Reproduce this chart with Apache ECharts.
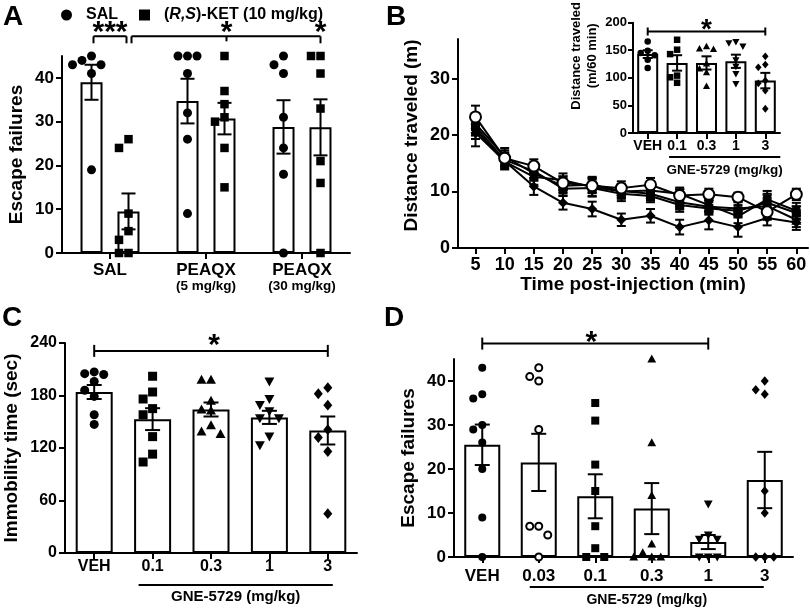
<!DOCTYPE html>
<html><head><meta charset="utf-8">
<script src="https://cdn.jsdelivr.net/npm/echarts@6/dist/echarts.min.js"></script>
<style>html,body{margin:0;padding:0;background:#fff}#c{width:810px;height:611px}</style>
</head><body><div id="c"></div>
<script>
// ================= DATA =================
// Panel A
const aCategories = ['SAL', 'PEAQX\n(5 mg/kg)', 'PEAQX\n(30 mg/kg)'];
const aYTicks = [0, 10, 20, 30, 40];
const aSalMean = [39.0, 34.7, 28.8];
const aSalSem  = [4.0, 5.1, 6.1];
const aKetMean = [9.5, 30.7, 28.7];
const aKetSem  = [4.1, 3.6, 6.4];
const aSalPoints = [[45, 44, 43, 43, 41, 19], [45, 45, 45, 41, 32, 26, 9], [45, 43, 41, 31, 24, 18, 0]];
const aKetPoints = [[26, 24, 9, 5, 3, 0, 0], [45, 37, 34, 31, 30, 24, 15], [45, 45, 41, 33, 21, 16, 0]];

// Panel B (time course)
const bTimes  = [5, 10, 15, 20, 25, 30, 35, 40, 45, 50, 55, 60];
const bYTicks = [0, 10, 20, 30];
const bVehMean = [23.2, 15.9, 14.5, 11.5, 11.0, 10.6, 11.2, 9.3, 9.5, 9.0, 6.4, 9.5];
const bVehSem  = [2.0, 1.4, 1.2, 1.1, 1.3, 1.2, 1.2, 1.1, 1.0, 0.8, 1.4, 1.0];
const bD01Mean = [21.5, 15.6, 13.6, 10.5, 10.6, 9.6, 9.2, 7.6, 7.0, 6.6, 8.0, 6.2];
const bD01Sem  = [1.6, 1.3, 1.5, 1.2, 1.5, 1.3, 1.1, 1.2, 1.1, 1.0, 1.6, 1.2];
const bD03Mean = [22.0, 16.2, 13.2, 11.0, 11.2, 10.1, 9.6, 8.1, 7.3, 7.0, 7.4, 5.0];
const bD03Sem  = [1.8, 1.5, 1.3, 1.3, 1.4, 1.2, 1.2, 1.3, 1.2, 1.1, 1.5, 1.3];
const bD1Mean  = [21.0, 15.3, 12.6, 12.0, 10.8, 10.0, 10.2, 9.6, 7.6, 5.6, 8.6, 6.6];
const bD1Sem   = [1.7, 1.2, 1.4, 1.2, 1.6, 1.3, 1.3, 1.1, 1.2, 1.2, 1.5, 1.4];
const bD3Mean  = [20.4, 15.4, 10.9, 8.0, 6.9, 5.0, 5.7, 3.7, 4.9, 3.7, 5.3, 4.5];
const bD3Sem   = [2.4, 1.5, 1.5, 1.2, 1.3, 1.1, 1.2, 1.3, 1.6, 1.7, 1.3, 1.3];

// Panel B inset
const insetCategories = ['VEH', '0.1', '0.3', '1', '3'];
const insetMean = [143, 127, 127, 130, 95];
const insetSem  = [7, 14, 12, 12, 14];
const insetPoints = [[166, 149, 145, 141, 133, 118], [169, 151, 143, 104, 91, 101],
  [157, 153, 152, 126, 117, 110, 85], [165, 163, 157, 132, 120, 107, 89], [139, 124, 119, 95, 90, 77, 44]];

// Panel C
const cCategories = ['VEH', '0.1', '0.3', '1', '3'];
const cMean = [184, 153, 164, 155, 140];
const cSem  = [8, 12.5, 8, 7.5, 16];
const cPoints = [[207, 205, 204, 196, 186, 179, 158, 147], [202, 184, 176, 165, 158, 133, 113, 104],
  [198, 198, 174, 164, 163, 146, 139, 136], [196, 176, 169, 162, 154, 154, 133, 123], [189, 182, 169, 141, 132, 116, 45]];

// Panel D
const dCategories = ['VEH', '0.03', '0.1', '0.3', '1', '3'];
const dYTicks = [0, 10, 20, 30, 40];
const dMean = [25.5, 21.5, 13.8, 11.0, 3.4, 17.5];
const dSem  = [4.6, 6.5, 5.0, 5.8, 1.6, 6.4];
const dPoints = [[43, 37, 36, 30, 29, 26, 20, 9, 0], [43, 41, 40, 29, 7, 7, 5, 0], [35, 31, 21, 15, 7, 2, 0, 0],
  [45, 26, 14, 3, 1, 0, 0, 0], [12, 5, 4, 4, 0, 0, 0], [40, 38, 37, 15, 10, 0, 0, 0]];

// ================= STYLE / LAYOUT =================
const FONT = "'Liberation Sans', Arial, Helvetica, sans-serif";
const shapesC = ['circle', 'square', 'triangle', 'invtri', 'diamond'];
const shapesD = ['circle', 'open', 'square', 'triangle', 'invtri', 'diamond'];
const GRIDS = [
  {left: 62, top: 56, width: 288, height: 197},   // A
  {left: 458, top: 39, width: 350, height: 209},  // B
  {left: 633, top: 15, width: 147, height: 118},  // inset
  {left: 65, top: 343, width: 292, height: 210},  // C
  {left: 454, top: 359, width: 339, height: 198}  // D
];

function marker(shape, x, y, s) {
  const blk = {fill: '#000'};
  switch (shape) {
    case 'open': return {type: 'circle', shape: {cx: x, cy: y, r: s / 2 - 0.5}, style: {fill: '#fff', stroke: '#000', lineWidth: 2}};
    case 'square': return {type: 'rect', shape: {x: x - s / 2, y: y - s / 2, width: s, height: s}, style: blk};
    case 'triangle': return {type: 'polygon', shape: {points: [[x, y - s * 0.55], [x + s * 0.55, y + s * 0.45], [x - s * 0.55, y + s * 0.45]]}, style: blk};
    case 'invtri': return {type: 'polygon', shape: {points: [[x, y + s * 0.55], [x + s * 0.55, y - s * 0.45], [x - s * 0.55, y - s * 0.45]]}, style: blk};
    case 'diamond': return {type: 'polygon', shape: {points: [[x, y - s * 0.6], [x + s * 0.5, y], [x, y + s * 0.6], [x - s * 0.5, y]]}, style: blk};
    default: return {type: 'circle', shape: {cx: x, cy: y, r: s / 2}, style: blk};
  }
}

// simple beeswarm: returns pixel offsets for a group of values
function swarm(values, pxPerUnit, step) {
  const order = values.map((v, i) => i).sort((a, b) => values[b] - values[a]);
  const placed = [], offs = new Array(values.length).fill(0);
  const cands = [0];
  for (let k = 1; k < 8; k++) cands.push(-k * step, k * step);
  for (const i of order) {
    const y = values[i] * pxPerUnit;
    for (const dx of cands) {
      if (placed.every(p => Math.hypot(p.x - dx, p.y - y) >= step * 0.98)) {
        offs[i] = dx; placed.push({x: dx, y}); break;
      }
    }
  }
  return offs;
}
function pointData(groups, pxPerUnit, step) {
  const out = [];
  groups.forEach((vals, ci) => {
    const o = swarm(vals, pxPerUnit, step);
    vals.forEach((v, k) => out.push([ci, v, o[k]]));
  });
  return out;
}
function errData(xs, means, sems) { return means.map((m, i) => [xs[i], m, sems[i]]); }

function ptsSeries(name, xi, shapes, size, offset, data) {
  return {
    type: 'custom', name, xAxisIndex: xi, yAxisIndex: xi, z: 4, itemStyle: {color: '#000'},
    renderItem: (params, api) => {
      const cat = api.value(0);
      const p = api.coord([cat, api.value(1)]);
      const shp = Array.isArray(shapes) ? shapes[cat] : shapes;
      return marker(shp, p[0] + offset + api.value(2), p[1], size);
    },
    data
  };
}
function errSeries(xi, offset, capW, data, z) {
  return {
    type: 'custom', xAxisIndex: xi, yAxisIndex: xi, z: z || 5, silent: true,
    renderItem: (params, api) => {
      const x = api.value(0), m = api.value(1), s = api.value(2);
      const t = api.coord([x, m + s]), b = api.coord([x, m - s]);
      const cx = t[0] + offset, st = {stroke: '#000', lineWidth: 2};
      return {type: 'group', children: [
        {type: 'line', shape: {x1: cx, y1: t[1], x2: cx, y2: b[1]}, style: st},
        {type: 'line', shape: {x1: cx - capW / 2, y1: t[1], x2: cx + capW / 2, y2: t[1]}, style: st},
        {type: 'line', shape: {x1: cx - capW / 2, y1: b[1], x2: cx + capW / 2, y2: b[1]}, style: st}
      ]};
    },
    data
  };
}
function barSeries(xi, data, width, gap) {
  const s = {type: 'bar', xAxisIndex: xi, yAxisIndex: xi, data, barWidth: width, z: 2, silent: true,
    itemStyle: {color: '#fff', borderColor: '#000', borderWidth: 2}};
  if (gap) s.barGap = gap;
  return s;
}

const axLine = {show: true, lineStyle: {color: '#000', width: 2}};
const axTick = (len, extra) => Object.assign({show: true, length: len, lineStyle: {color: '#000', width: 2}}, extra || {});
const lab = (size, margin, extra) => Object.assign({color: '#000', fontFamily: FONT, fontWeight: 'bold', fontSize: size, margin}, extra || {});
const nameStyle = (size, extra) => Object.assign({color: '#000', fontFamily: FONT, fontWeight: 'bold', fontSize: size}, extra || {});

function catAxis(gi, data, size, margin, extraLabel) {
  return {type: 'category', gridIndex: gi, data, axisLine: axLine,
    axisTick: axTick(6, {alignWithLabel: true}), splitLine: {show: false},
    axisLabel: lab(size, margin, Object.assign({interval: 0}, extraLabel || {}))};
}

const A_OFF = 18.5;
const option = {
  animation: false,
  backgroundColor: '#fff',
  textStyle: {fontFamily: FONT},
  grid: GRIDS,
  legend: {
    left: 56, top: 2, itemWidth: 11, itemHeight: 11, itemGap: 21,
    selectedMode: false,
    data: [{name: 'SAL', icon: 'circle'}, {name: '(R,S)-KET (10 mg/kg)', icon: 'rect'}],
    formatter: n => n === 'SAL' ? '{n|SAL}' : '{n|(}{i|R,S}{m|)-KET (10 mg/kg)}',
    textStyle: {rich: {
      n: {fontFamily: FONT, fontWeight: 'bold', fontSize: 16, color: '#000', padding: [0, 0, 0, 9]},
      i: {fontFamily: FONT, fontWeight: 'bold', fontStyle: 'italic', fontSize: 16, color: '#000'},
      m: {fontFamily: FONT, fontWeight: 'bold', fontSize: 16, color: '#000'}
    }}
  },
  xAxis: [
    catAxis(0, aCategories, 17, 9, {
      formatter: v => { const p = v.split('\n'); return p[1] ? `{a|${p[0]}}\n{b|${p[1]}}` : `{a|${p[0]}}`; },
      rich: {a: {fontFamily: FONT, fontWeight: 'bold', fontSize: 17, lineHeight: 17, color: '#000'},
             b: {fontFamily: FONT, fontWeight: 'bold', fontSize: 13.5, lineHeight: 15, color: '#000'}}
    }),
    {type: 'value', gridIndex: 1, min: 2, max: 62, axisLine: axLine, splitLine: {show: false},
      axisTick: axTick(6, {customValues: bTimes}), axisLabel: lab(18, 8, {customValues: bTimes}),
      name: 'Time post-injection (min)', nameLocation: 'middle', nameGap: 26, nameTextStyle: nameStyle(19)},
    catAxis(2, insetCategories, 14, 6),
    catAxis(3, cCategories, 16, 6),
    catAxis(4, dCategories, 17, 11)
  ],
  yAxis: [
    {type: 'value', gridIndex: 0, min: 0, max: 45, axisLine: axLine, splitLine: {show: false},
      axisTick: axTick(6, {customValues: aYTicks}), axisLabel: lab(17, 8, {customValues: aYTicks}),
      name: 'Escape failures', nameLocation: 'middle', nameGap: 36, nameTextStyle: nameStyle(19)},
    {type: 'value', gridIndex: 1, min: 0, max: 37, axisLine: axLine, splitLine: {show: false},
      axisTick: axTick(6, {customValues: bYTicks}), axisLabel: lab(18, 8, {customValues: bYTicks}),
      name: 'Distance traveled (m)', nameLocation: 'middle', nameGap: 37, nameTextStyle: nameStyle(19, {padding: [0, 0, 0, 16]})},
    {type: 'value', gridIndex: 2, min: 0, max: 200, interval: 50, axisLine: axLine, splitLine: {show: false},
      axisTick: axTick(5), axisLabel: lab(13, 6),
      name: 'Distance traveled\n(m/60 min)', nameLocation: 'middle', nameGap: 33,
      nameTextStyle: nameStyle(13, {lineHeight: 16, padding: [0, 0, 0, 44]})},
    {type: 'value', gridIndex: 3, min: 0, max: 240, interval: 60, axisLine: axLine, splitLine: {show: false},
      axisTick: axTick(6), axisLabel: lab(16, 8),
      name: 'Immobility time (sec)', nameLocation: 'middle', nameGap: 44, nameTextStyle: nameStyle(19)},
    {type: 'value', gridIndex: 4, min: 0, max: 45, axisLine: axLine, splitLine: {show: false},
      axisTick: axTick(6, {customValues: dYTicks}), axisLabel: lab(17, 8, {customValues: dYTicks}),
      name: 'Escape failures', nameLocation: 'middle', nameGap: 36, nameTextStyle: nameStyle(19)}
  ],
  series: []
};

const S = option.series;
const idxA = aCategories.map((c, i) => i);
// Panel A
S.push(barSeries(0, aSalMean, 22, '68%'));
S.push(barSeries(0, aKetMean, 22, '68%'));
S.push(ptsSeries('SAL', 0, 'circle', 9, -A_OFF, pointData(aSalPoints, 197 / 45, 9.5)));
S.push(ptsSeries('(R,S)-KET (10 mg/kg)', 0, 'square', 8.5, A_OFF, pointData(aKetPoints, 197 / 45, 9.5)));
S.push(errSeries(0, -A_OFF, 14, errData(idxA, aSalMean, aSalSem)));
S.push(errSeries(0, A_OFF, 14, errData(idxA, aKetMean, aKetSem)));

// Panel B: lines with error bars
const bGroups = [
  {name: '3 mg/kg', mean: bD3Mean, sem: bD3Sem, symbol: 'diamond', size: 10, rot: 0},
  {name: '1 mg/kg', mean: bD1Mean, sem: bD1Sem, symbol: 'triangle', size: 10, rot: 180},
  {name: '0.3 mg/kg', mean: bD03Mean, sem: bD03Sem, symbol: 'triangle', size: 10, rot: 0},
  {name: '0.1 mg/kg', mean: bD01Mean, sem: bD01Sem, symbol: 'rect', size: 9, rot: 0},
  {name: 'VEH', mean: bVehMean, sem: bVehSem, symbol: 'circle', size: 11, rot: 0, open: true}
];
bGroups.forEach((g, k) => {
  S.push(errSeries(1, 0, 9, errData(bTimes, g.mean, g.sem), 3 + k));
  S.push({type: 'line', name: g.name, xAxisIndex: 1, yAxisIndex: 1, z: 3 + k, silent: true,
    data: bTimes.map((t, i) => [t, g.mean[i]]),
    symbol: g.symbol, symbolSize: g.size, symbolRotate: g.rot, showSymbol: true,
    lineStyle: {color: '#000', width: 2},
    itemStyle: g.open ? {color: '#fff', borderColor: '#000', borderWidth: 2} : {color: '#000', borderWidth: 0}});
});

// Inset
const idxI = insetCategories.map((c, i) => i);
S.push(barSeries(2, insetMean, 21));
S.push(ptsSeries('inset points', 2, shapesC, 6.5, 0, pointData(insetPoints, 118 / 200, 7)));
S.push(errSeries(2, 0, 10, errData(idxI, insetMean, insetSem)));

// Panel C
const idxC = cCategories.map((c, i) => i);
S.push(barSeries(3, cMean, 37));
S.push(ptsSeries('C points', 3, shapesC, 9, 0, pointData(cPoints, 210 / 240, 9.5)));
S.push(errSeries(3, 0, 15, errData(idxC, cMean, cSem)));

// Panel D
const idxD = dCategories.map((c, i) => i);
S.push(barSeries(4, dMean, 36));
S.push(ptsSeries('D points', 4, shapesD, 8, 0, pointData(dPoints, 198 / 45, 9)));
S.push(errSeries(4, 0, 15, errData(idxD, dMean, dSem)));

const chart = echarts.init(document.getElementById('c'), null, {renderer: 'canvas', width: 810, height: 611});
chart.setOption(option);

// ================= ANNOTATIONS =================
const P = (g, x, y) => chart.convertToPixel({gridIndex: g}, [x, y]);
const G = [];
const ln = (x1, y1, x2, y2) => G.push({type: 'line', silent: true, z: 10, shape: {x1, y1, x2, y2}, style: {stroke: '#000', lineWidth: 2}});
const tx = (text, x, y, size, weight, align) => G.push({type: 'text', silent: true, z: 10, x, y,
  style: {text, fill: '#000', font: `${weight || 'bold'} ${size}px ${FONT}`, align: align || 'center', verticalAlign: 'middle',
    textAlign: align || 'center', textVerticalAlign: 'middle'}});

// panel letters
tx('A', 3, 17, 28, 'bold', 'left');
tx('B', 386, 17, 28, 'bold', 'left');
tx('C', 2, 318, 28, 'bold', 'left');
tx('D', 384, 318, 28, 'bold', 'left');

// A brackets
{
  const yb = P(0, 0, 49.5)[1];
  const c0 = P(0, 0, 0)[0], c1 = P(0, 1, 0)[0], c2 = P(0, 2, 0)[0];
  const l1 = c0 - A_OFF + 2, r1 = c0 + A_OFF - 2;
  ln(l1, yb, r1, yb); ln(l1, yb, l1, yb + 7); ln(r1, yb, r1, yb + 7);
  tx('***', (l1 + r1) / 2, yb - 4, 30);
  const l2 = c0 + A_OFF + 3, m2 = c1 + A_OFF + 2, r2 = c2 + A_OFF;
  ln(l2, yb, r2, yb); ln(l2, yb, l2, yb + 7); ln(m2, yb, m2, yb + 5); ln(r2, yb, r2, yb + 7);
  tx('*', m2, yb - 4, 30); tx('*', r2, yb - 4, 30);
}
// inset bracket + labels
{
  const yb = P(2, 0, 184)[1], base = P(2, 0, 0)[1];
  const x0 = P(2, 0, 0)[0], x4 = P(2, 4, 0)[0], x1 = P(2, 1, 0)[0];
  ln(x0, yb, x4, yb); ln(x0, yb - 4, x0, yb + 4); ln(x4, yb - 4, x4, yb + 4);
  tx('*', (x0 + x4) / 2, yb - 1, 28);
  const ul = x1 - 8, ur = x4 + 15;
  ln(ul, base + 24, ur, base + 24);
  tx('GNE-5729 (mg/kg)', (ul + ur) / 2, base + 37, 13.5);
}
// C bracket + labels
{
  const yb = P(3, 0, 231)[1], base = P(3, 0, 0)[1];
  const x0 = P(3, 0, 0)[0], x4 = P(3, 4, 0)[0], x1 = P(3, 1, 0)[0];
  ln(x0, yb, x4, yb); ln(x0, yb - 6, x0, yb + 6); ln(x4, yb - 6, x4, yb + 6);
  tx('*', (x0 + x4) / 2 + 3, yb - 5, 30);
  const ul = x1 - 14, ur = x4 + 5;
  ln(ul, base + 32, ur, base + 32);
  tx('GNE-5729 (mg/kg)', (ul + ur) / 2, base + 44, 15);
}
// D bracket + labels
{
  const yb = P(4, 0, 48.5)[1], base = P(4, 0, 0)[1];
  const x0 = P(4, 0, 0)[0], x4 = P(4, 4, 0)[0], x1 = P(4, 1, 0)[0], x5 = P(4, 5, 0)[0];
  ln(x0, yb, x4, yb); ln(x0, yb - 6, x0, yb + 6); ln(x4, yb - 6, x4, yb + 6);
  tx('*', (x0 + x4) / 2 - 4, yb - 1, 30);
  const ul = x1 - 9, ur = x5 - 1;
  ln(ul, base + 30, ur, base + 30);
  tx('GNE-5729 (mg/kg)', (ul + ur) / 2, base + 43, 14);
}
chart.setOption({graphic: G});
</script>
</body></html>
